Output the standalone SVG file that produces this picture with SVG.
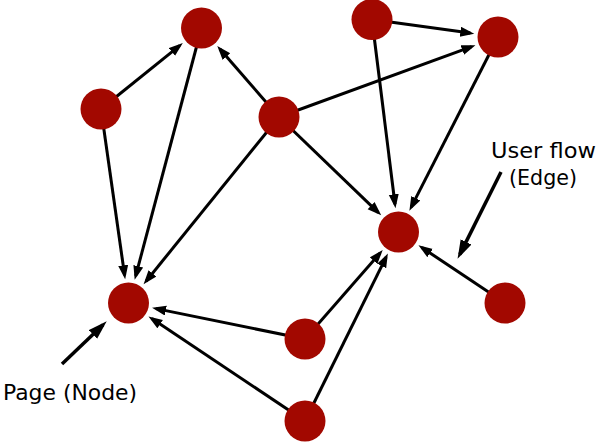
<svg xmlns="http://www.w3.org/2000/svg" width="600" height="442" viewBox="0 0 600 442">
<style>
.e{stroke:#000;stroke-width:3;fill:none;marker-end:url(#ah)}
.l{stroke:#000;stroke-width:3.5;fill:none;marker-end:url(#ahl)}
.n{fill:#a20800}
.t{font-family:"DejaVu Sans",sans-serif;font-size:22px;fill:#000}
</style>
<defs>
<marker id="ah" markerUnits="userSpaceOnUse" markerWidth="16" markerHeight="12" refX="10" refY="5" orient="auto"><path d="M0,0 L14,5 L0,10 z" fill="#000"/></marker>
<marker id="ahl" markerUnits="userSpaceOnUse" markerWidth="20" markerHeight="14" refX="14" refY="6" orient="auto"><path d="M0,0 L19,6 L0,12 z" fill="#000"/></marker>
</defs>
<rect width="600" height="442" fill="#fff"/>
<g id="edges">
<line class="e" x1="101" y1="109" x2="179.7" y2="45.6"/>
<line class="e" x1="201.5" y1="28" x2="135.7" y2="275.9"/>
<line class="e" x1="101" y1="109" x2="124.6" y2="275.3"/>
<line class="e" x1="279" y1="117" x2="219.9" y2="49.1"/>
<line class="e" x1="279" y1="117" x2="146.1" y2="281.2"/>
<line class="e" x1="279" y1="117" x2="471.7" y2="46.6"/>
<line class="e" x1="279" y1="117" x2="378.3" y2="212.6"/>
<line class="e" x1="372" y1="19.5" x2="470.3" y2="33.1"/>
<line class="e" x1="372" y1="19.5" x2="395" y2="204.2"/>
<line class="e" x1="498" y1="37" x2="411.2" y2="207.1"/>
<line class="e" x1="505" y1="303" x2="421.8" y2="247.5"/>
<line class="e" x1="305" y1="339" x2="380.1" y2="253.1"/>
<line class="e" x1="305" y1="421" x2="386.1" y2="257.1"/>
<line class="e" x1="305" y1="339" x2="156" y2="308.6"/>
<line class="e" x1="305" y1="421" x2="151.8" y2="318.6"/>
</g>
<g id="n1"><circle class="n" cx="201.5" cy="28" r="20.5"/></g>
<g id="n2"><circle class="n" cx="372" cy="19.5" r="20.5"/></g>
<g id="n3"><circle class="n" cx="498" cy="37" r="20.5"/></g>
<g id="n4"><circle class="n" cx="101" cy="109" r="20.5"/></g>
<g id="n5"><circle class="n" cx="279" cy="117" r="20.5"/></g>
<g id="n6"><circle class="n" cx="398.5" cy="232" r="20.5"/></g>
<g id="n7"><circle class="n" cx="128.5" cy="303" r="20.5"/></g>
<g id="n8"><circle class="n" cx="505" cy="303" r="20.5"/></g>
<g id="n9"><circle class="n" cx="305" cy="339" r="20.5"/></g>
<g id="n10"><circle class="n" cx="305" cy="421" r="20.5"/></g>
<g id="label-node">
<line class="l" x1="62" y1="364" x2="103.1" y2="324.8"/>
<text class="t" x="3" y="400" textLength="134" lengthAdjust="spacingAndGlyphs">Page (Node)</text>
</g>
<g id="label-edge">
<line class="l" x1="501" y1="172" x2="459.8" y2="254.4"/>
<text class="t" x="491" y="158" textLength="105" lengthAdjust="spacingAndGlyphs">User flow</text>
<text class="t" x="509" y="185" textLength="68" lengthAdjust="spacingAndGlyphs">(Edge)</text>
</g>
</svg>
